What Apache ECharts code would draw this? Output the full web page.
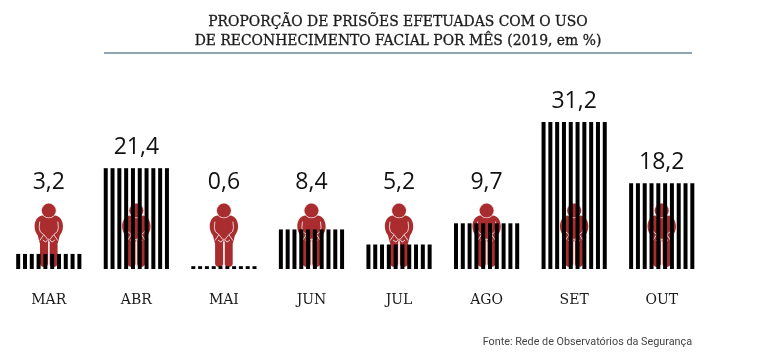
<!DOCTYPE html>
<html><head><meta charset="utf-8">
<style>html,body{margin:0;padding:0;background:#fff}#c{width:768px;height:353px}</style>
<script src="https://cdn.jsdelivr.net/npm/echarts@6/dist/echarts.min.js"></script>
</head><body><div id="c"></div>
<script>
const categories = ['MAR','ABR','MAI','JUN','JUL','AGO','SET','OUT'];
const values = [3.2,21.4,0.6,8.4,5.2,9.7,31.2,18.2];
const valueLabels = ['3,2','21,4','0,6','8,4','5,2','9,7','31,2','18,2'];
const stripeCount = 10;
const serif = '"DejaVu Serif","Liberation Serif",serif';
const sans = '"Open Sans","Noto Sans",sans-serif';
const chart = echarts.init(document.getElementById('c'), null, {renderer:'canvas'});

const bodyD = 'M -6 12 L 6 12 C 11 12 14.2 17 14.2 23 C 14.2 27 12.5 30 11 32 L 9.5 38 L 8.8 40 L 8.8 60 C 8.8 62 7 63.4 4.6 63.4 C 2.2 63.4 0.8 62 0.8 60 L 0.8 38 L -0.8 38 L -0.8 60 C -0.8 62 -2.2 63.4 -4.6 63.4 C -7 63.4 -8.8 62 -8.8 60 L -8.8 40 L -9.5 38 L -11 32 C -12.5 30 -14.2 27 -14.2 23 C -14.2 17 -11 12 -6 12 Z';
const linesD = 'M -9 18 L -9.6 24 L -8.6 28 L -5 31 M 9 18 L 9.6 24 L 8.6 28 L 5 31 M -9 37 L -5 31 L -1 36 L -3 38.5 L -6 36.5 M 9 37 L 5 31 L 1 36 L 3 38.5 L 6 36.5 M 0 35 L 0 63';

function personItem(params, api){
  const p = api.coord([api.value(0), 0]);
  const cx = p[0], T = p[1]-65.4;
  const red = '#a92d2f';
  return {type:'group', x:cx, y:T, children:[
    {type:'path', layout:'cover', shape:{pathData:bodyD, x:-14.2, y:12, width:28.4, height:51.4}, style:{fill:red}},
    {type:'circle', shape:{cx:0, cy:7, r:7.7}, style:{fill:'#f3dcdc'}},
    {type:'circle', shape:{cx:0, cy:7, r:7}, style:{fill:red}},
    {type:'path', layout:'cover', shape:{pathData:linesD, x:-9.6, y:18, width:19.2, height:45},
      style:{fill:'none', stroke:'#f3dcdc', lineWidth:0.9}}
  ]};
}

function stripesItem(params, api){
  const idx = api.value(0), v = api.value(1);
  const top = api.coord([idx, v]), base = api.coord([idx, 0]);
  const sw = 4, step = 6.8, total = sw+step*(stripeCount-1);
  const left = top[0]-total/2;
  const children = [];
  for(let i=0;i<stripeCount;i++){
    children.push({type:'rect', shape:{x:left+i*step, y:top[1], width:sw, height:base[1]-top[1]}, style:{fill:'#000'}});
  }
  return {type:'group', children};
}

chart.setOption({
  animation:false,
  backgroundColor:'#fff',
  title:{text:'PROPORÇÃO DE PRISÕES EFETUADAS COM O USO\nDE RECONHECIMENTO FACIAL POR MÊS (2019, em %)',
    left:393, top:8, textAlign:'center',
    textStyle:{fontFamily:serif, fontSize:13.9, fontWeight:'normal', color:'#1a1a1a', lineHeight:19,
      textBorderColor:'#1a1a1a', textBorderWidth:0.3}},
  grid:{left:5, right:62.5, top:122, height:147},
  xAxis:{type:'category', data:categories,
    axisLine:{show:false}, axisTick:{show:false},
    axisLabel:{margin:24, fontFamily:serif, fontSize:14, color:'#1a1a1a'}},
  yAxis:{type:'value', min:0, max:31.2, show:false},
  graphic:[
    {type:'rect', shape:{x:104,y:52.3,width:588,height:1.5}, style:{fill:'#6d8796'}},
    {type:'text', right:76, top:336.5, style:{text:'Fonte: Rede de Observatórios da Segurança', fontFamily:'Roboto,sans-serif', fontSize:10.8, fill:'#444'}}
  ],
  series:[
    {type:'custom', z:1, renderItem:personItem, data:categories.map((c,i)=>[i]), encode:{x:0}, silent:true},
    {type:'custom', z:2, renderItem:stripesItem, data:values.map((v,i)=>[i,v]), encode:{x:0,y:1}, silent:true},
    {type:'scatter', z:3, symbolSize:1, itemStyle:{color:'rgba(0,0,0,0)', opacity:1}, silent:true,
      data:values.map((v,i)=>({value:[i, Math.max(v,13.9)], lbl:valueLabels[i]})),
      label:{show:true, position:'top', distance:9, formatter:p=>p.data.lbl,
        fontFamily:sans, fontSize:23, color:'#111'}}
  ]
});
</script></body></html>
